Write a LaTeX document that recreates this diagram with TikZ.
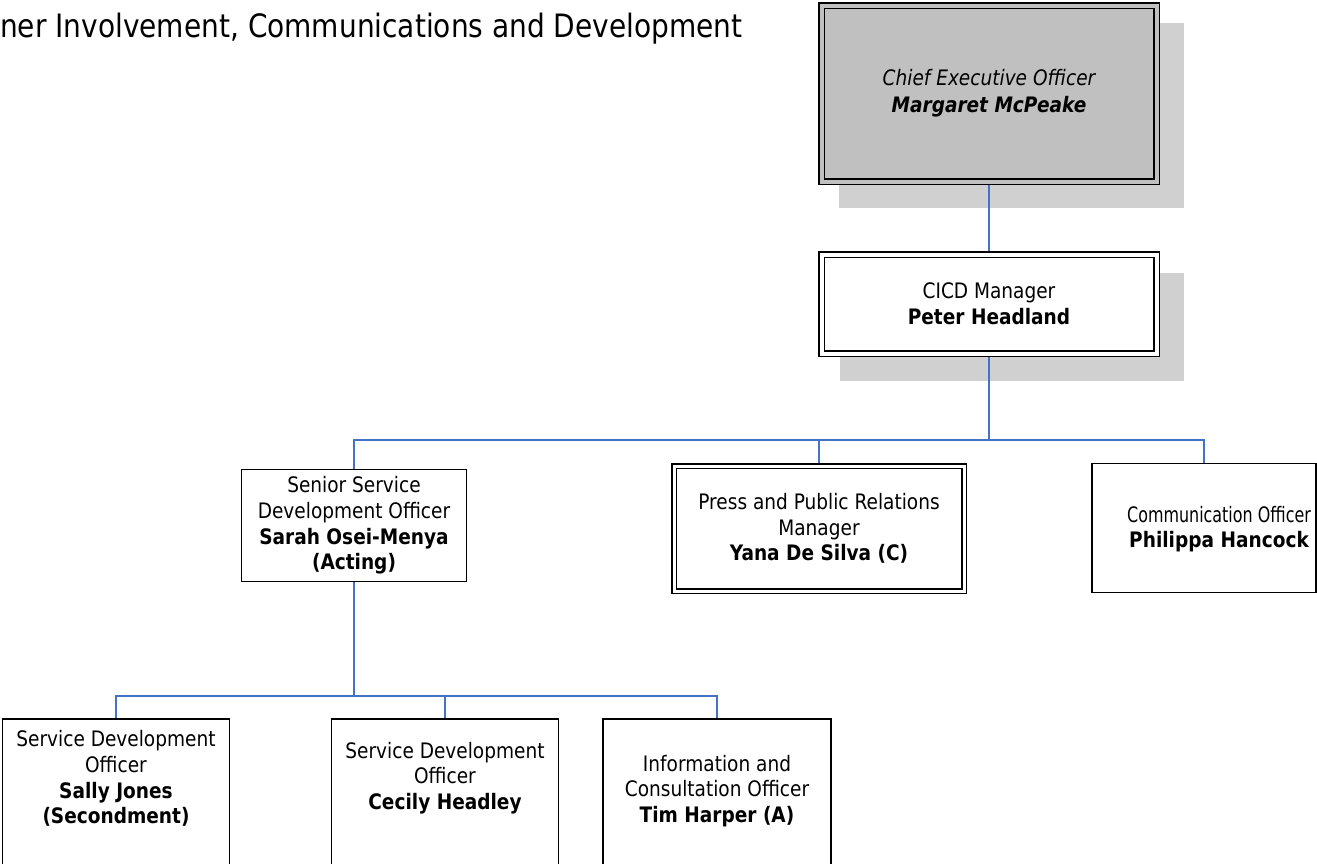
\documentclass[tikz,border=0pt]{standalone}
\usepackage{graphicx}
\usepackage{fontspec}
\setmainfont{DejaVu Sans}[FakeStretch=0.87]
\usetikzlibrary{backgrounds,calc}
\definecolor{connc}{RGB}{68,114,196}
\definecolor{ceofill}{RGB}{192,192,192}
\definecolor{shad}{RGB}{208,208,208}
\begin{document}
\begin{tikzpicture}[x=1pt,y=-1pt,
  every node/.style={font=\fontsize{21.3}{25.7}\selectfont, align=center, inner sep=0pt},
  box/.style={draw=black, line width=1.5pt, fill=white, rectangle},
  dbox/.style={draw=black, line width=1.5pt, double distance=#1, double=white, fill=white, rectangle},
  conn/.style={draw=connc, line width=1.6pt},
  shadowfill/.style={fill=shad}]
\useasboundingbox (0,0) rectangle (1317,863);

\node[anchor=base west, font=\fontsize{32.2}{36}\selectfont] (title) at (0,37) {ner Involvement, Communications and Development};

\node[dbox=4pt, double=ceofill, fill=ceofill, minimum width=335pt, minimum height=176pt] (ceo) at (989,93.5)
  {{\itshape Chief Executive Officer}\\[1pt]{\bfseries\itshape Margaret McPeake}};
\node[dbox=4pt, minimum width=335pt, minimum height=99pt] (cicd) at (989,304)
  {CICD Manager\\{\bfseries Peter Headland}};

\node[box, minimum width=225pt, minimum height=112pt] (senior) at (354,525.5)
  {Senior Service\\Development Officer\\{\bfseries Sarah Osei-Menya}\\{\bfseries (Acting)}};
\node[dbox=3pt, minimum width=290pt, minimum height=125pt] (press) at (819,528.5)
  {Press and Public Relations\\Manager\\{\bfseries Yana De Silva (C)}};
\node[box, minimum width=224pt, minimum height=129pt] (comm) at (1204,528) {};
\node[font=\fontsize{21.3}{25}\selectfont] (commt) at (1219,529.5)
  {\scalebox{0.86}[1]{Communication Officer}\\{\bfseries Philippa Hancock}};

\node[box, minimum width=227pt, minimum height=181pt] (sally) at (116,809.5) {};
\node[box, minimum width=227pt, minimum height=181pt] (cecily) at (445,809.5) {};
\node[box, minimum width=228pt, minimum height=181pt] (tim) at (717,809.5) {};
\node (sallyt) at (116,778.5) {Service Development\\Officer\\{\bfseries Sally Jones}\\{\bfseries (Secondment)}};
\node (cecilyt) at (445,778) {Service Development\\Officer\\{\bfseries Cecily Headley}};
\node (timt) at (717,791) {Information and\\Consultation Officer\\{\bfseries Tim Harper (A)}};

\coordinate (bus1) at (0,440);
\coordinate (bus2) at (0,696);

\begin{scope}[on background layer]
  \fill[white] (0,0) rectangle (1317,863);
  \fill[shadowfill] ([shift={(18.5,18.5)}]ceo.north west) rectangle ([shift={(26.5,25.5)}]ceo.south east);
  \fill[shadowfill] ([shift={(19.5,19.5)}]cicd.north west) rectangle ([shift={(26.5,26.5)}]cicd.south east);
  \draw[conn] (ceo.south) -- (cicd.north);
  \draw[conn] (cicd.south) -- (cicd.south |- bus1) -| (senior.north);
  \draw[conn] (cicd.south) -- (cicd.south |- bus1) -| (press.north);
  \draw[conn] (cicd.south) -- (cicd.south |- bus1) -| (comm.north);
  \draw[conn] (senior.south) -- (senior.south |- bus2) -| (sally.north);
  \draw[conn] (senior.south) -- (senior.south |- bus2) -| (cecily.north);
  \draw[conn] (senior.south) -- (senior.south |- bus2) -| (tim.north);
\end{scope}
\end{tikzpicture}
\end{document}
